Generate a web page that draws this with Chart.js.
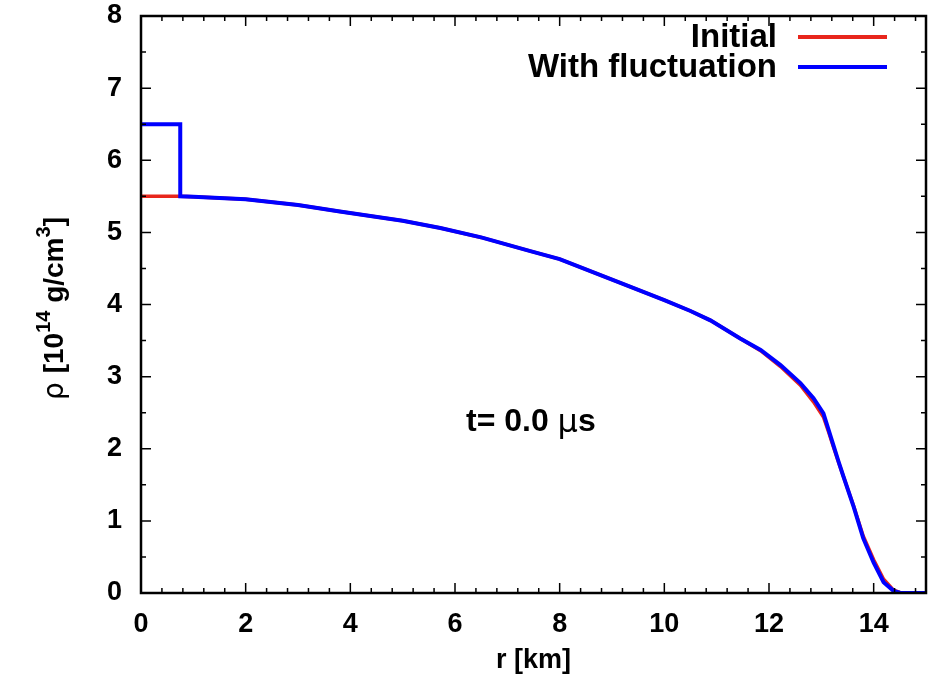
<!DOCTYPE html>
<html lang="en">
<head>
<meta charset="UTF-8">
<script src="https://cdn.jsdelivr.net/npm/chart.js"></script>
<title>Density profile</title>
<style>
  body { margin: 0; background: #fff; }
</style>
</head>
<body>
<canvas id="rhoChart" width="935" height="683"></canvas>
<script>
// radius [km] and density [10^14 g/cm^3]
const rInitial   = [0, 0.75, 1, 2, 3, 3.8, 5, 5.72, 6.5, 7.44, 8, 9.16, 10, 10.5, 10.88, 11.45, 11.84, 12.22, 12.6, 12.85, 13.04, 13.14, 13.23, 13.33, 13.42, 13.62, 13.8, 14.0, 14.19, 14.38, 14.5, 15];
const rhoInitial = [5.5, 5.5, 5.495, 5.46, 5.38, 5.29, 5.16, 5.06, 4.93, 4.74, 4.63, 4.30, 4.06, 3.91, 3.78, 3.53, 3.36, 3.14, 2.88, 2.65, 2.44, 2.23, 2.03, 1.81, 1.62, 1.20, 0.79, 0.46, 0.19, 0.04, 0.008, 0];

const rFluct   = [0, 0.75, 0.75, 1, 2, 3, 3.8, 5, 5.72, 6.5, 7.44, 8, 9.16, 10, 10.5, 10.88, 11.45, 11.84, 12.22, 12.6, 12.85, 13.04, 13.14, 13.23, 13.33, 13.42, 13.62, 13.8, 14.0, 14.19, 14.38, 14.5, 15];
const rhoFluct = [6.5, 6.5, 5.5, 5.495, 5.46, 5.38, 5.29, 5.16, 5.06, 4.93, 4.74, 4.63, 4.30, 4.06, 3.91, 3.78, 3.53, 3.37, 3.16, 2.91, 2.70, 2.49, 2.26, 2.05, 1.82, 1.62, 1.19, 0.76, 0.42, 0.15, 0.03, 0.005, 0];

const seriesNames = ['Initial', 'With fluctuation'];
const seriesColors = ['#e8261c', '#0000ff'];
const xTicks = [0, 2, 4, 6, 8, 10, 12, 14];
const yTicks = [0, 1, 2, 3, 4, 5, 6, 7, 8];

const toPoints = (xs, ys) => xs.map((x, i) => ({ x: x, y: ys[i] }));
const FAMILY = '"Liberation Sans", Arial, sans-serif';

// gnuplot-like frame: box on all sides with inward ticks, legend and labels
const framePlugin = {
  id: 'frame',
  afterDraw(chart) {
    const { ctx, chartArea: a, scales } = chart;
    const xs = scales.x, ys = scales.y;
    ctx.save();
    ctx.strokeStyle = '#000';
    ctx.lineWidth = 1.5;
    ctx.beginPath();
    for (let v = 0; v <= 15.001; v += 0.4) {
      const px = xs.getPixelForValue(v);
      const major = Math.abs(v / 2 - Math.round(v / 2)) < 0.01;
      const len = major ? 10 : 5;
      ctx.moveTo(px, a.bottom); ctx.lineTo(px, a.bottom - len);
      ctx.moveTo(px, a.top); ctx.lineTo(px, a.top + len);
    }
    for (let v = 0; v <= 8.001; v += 0.5) {
      const py = ys.getPixelForValue(v);
      const major = Math.abs(v - Math.round(v)) < 0.01;
      const len = major ? 10 : 5;
      ctx.moveTo(a.left, py); ctx.lineTo(a.left + len, py);
      ctx.moveTo(a.right, py); ctx.lineTo(a.right - len, py);
    }
    ctx.stroke();
    ctx.lineWidth = 2.5;
    ctx.strokeRect(a.left, a.top, a.right - a.left, a.bottom - a.top);

    // legend, gnuplot style: text right-aligned, sample line on the right
    ctx.font = 'bold 33px ' + FAMILY;
    ctx.textAlign = 'right';
    ctx.textBaseline = 'middle';
    seriesNames.forEach((name, i) => {
      const y = 37 + i * 30;
      ctx.fillStyle = '#000';
      ctx.fillText(name, 777, y + 1);
      ctx.strokeStyle = seriesColors[i];
      ctx.lineWidth = 4;
      ctx.beginPath();
      ctx.moveTo(798, y); ctx.lineTo(887, y);
      ctx.stroke();
    });

    // time label
    ctx.fillStyle = '#000';
    ctx.textAlign = 'left';
    ctx.font = 'bold 32px ' + FAMILY;
    ctx.fillText('t= 0.0 ', 466, 422);
    let w = ctx.measureText('t= 0.0 ').width;
    ctx.font = '32px "DejaVu Sans", sans-serif';
    ctx.fillText('\u03bc', 466 + w, 424);
    w += ctx.measureText('\u03bc').width;
    ctx.font = 'bold 32px ' + FAMILY;
    ctx.fillText('s', 466 + w, 422);

    // y axis title with superscripts
    ctx.translate(63, 400);
    ctx.rotate(-Math.PI / 2);
    ctx.textBaseline = 'alphabetic';
    const parts = [
      ['\u03c1 ', '28px "DejaVu Sans", sans-serif', 0],
      ['[10', 'bold 28px ' + FAMILY, 0],
      ['14', 'bold 20px ' + FAMILY, -13],
      [' g/cm', 'bold 28px ' + FAMILY, 0],
      ['3', 'bold 20px ' + FAMILY, -13],
      [']', 'bold 28px ' + FAMILY, 0]
    ];
    let x = 0;
    parts.forEach(([t, f, dy]) => {
      ctx.font = f;
      ctx.fillText(t, x, dy);
      x += ctx.measureText(t).width;
    });
    ctx.restore();
  }
};

const ctx = document.getElementById('rhoChart').getContext('2d');
const rhoChart = new Chart(ctx, {
  type: 'scatter',
  data: {
    datasets: [{
      label: seriesNames[0],
      data: toPoints(rInitial, rhoInitial),
      showLine: true,
      borderColor: seriesColors[0],
      borderWidth: 3.5,
      pointRadius: 0,
      tension: 0,
      order: 1
    }, {
      label: seriesNames[1],
      data: toPoints(rFluct, rhoFluct),
      showLine: true,
      borderColor: seriesColors[1],
      borderWidth: 4,
      pointRadius: 0,
      tension: 0,
      order: 0
    }]
  },
  options: {
    responsive: false,
    animation: false,
    layout: { padding: { top: 16, right: 9, left: 0, bottom: 0 } },
    plugins: { legend: { display: false }, tooltip: { enabled: false } },
    scales: {
      x: {
        type: 'linear',
        min: 0, max: 15,
        afterBuildTicks: (s) => { s.ticks = xTicks.map(v => ({ value: v })); },
        afterFit: (s) => { s.height = 90; },
        grid: { display: false },
        border: { display: false },
        ticks: { color: '#000', font: { family: FAMILY, size: 27, weight: 'bold' }, padding: 7 },
        title: { display: true, text: 'r [km]', color: '#000', font: { family: FAMILY, size: 27, weight: 'bold' }, padding: { top: 4, bottom: 6 } }
      },
      y: {
        type: 'linear',
        min: 0, max: 8,
        afterBuildTicks: (s) => { s.ticks = yTicks.map(v => ({ value: v })); },
        afterFit: (s) => { s.width = 141; s.paddingTop = 0; s.paddingBottom = 0; },
        grid: { display: false },
        border: { display: false },
        ticks: { color: '#000', font: { family: FAMILY, size: 27, weight: 'bold' }, padding: 11 }
      }
    }
  },
  plugins: [framePlugin]
});
</script>
</body>
</html>
